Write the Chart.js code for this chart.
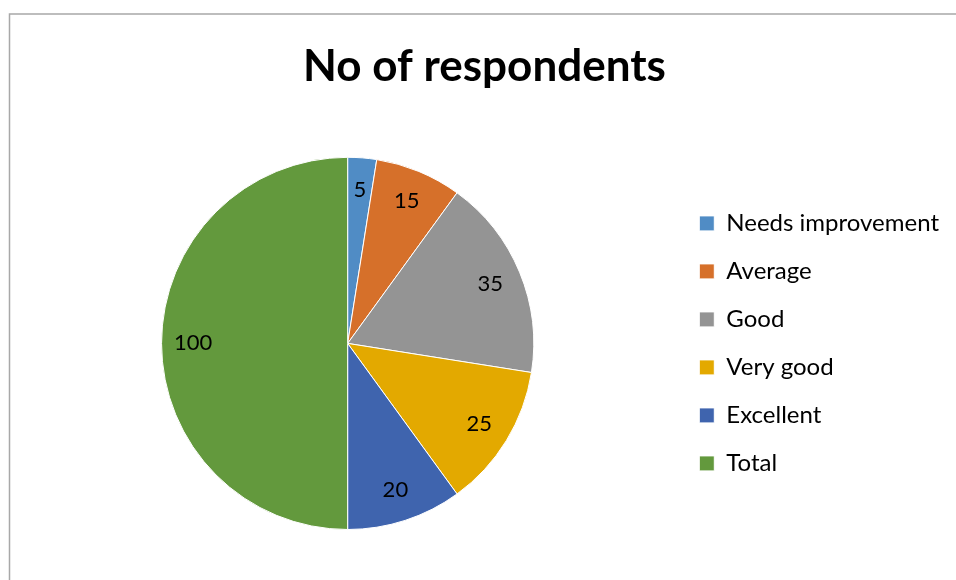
<!DOCTYPE html>
<html lang="en">
<head>
  <meta charset="UTF-8" />
  <title>No of respondents</title>
  <script src="https://cdn.jsdelivr.net/npm/chart.js@4/dist/chart.umd.min.js"></script>
  <style>
    html, body { margin: 0; padding: 0; background: #fff; }
    #wrap { width: 956px; height: 580px; position: relative; }
  </style>
</head>
<body>
  <div id="wrap">
    <canvas id="grafico" width="956" height="580"></canvas>
  </div>
  <script>
    const categories = ["Needs improvement", "Average", "Good", "Very good", "Excellent", "Total"];
    const respondents = [5, 15, 35, 25, 20, 100];
    const sliceColors = ["#508CC5", "#D6702A", "#949494", "#E3A900", "#3F64AE", "#63993D"];

    // frame lines along the top and left edge
    const frame = {
      id: "frame",
      beforeDraw(chart) {
        const ctx = chart.ctx;
        ctx.save();
        ctx.strokeStyle = "#a8a8a8";
        ctx.lineWidth = 1.5;
        ctx.beginPath();
        ctx.moveTo(9.5, 580);
        ctx.lineTo(9.5, 14);
        ctx.lineTo(956, 14);
        ctx.stroke();
        ctx.restore();
      }
    };

    // value labels inside each slice
    const sliceLabels = {
      id: "sliceLabels",
      afterDatasetsDraw(chart) {
        const ctx = chart.ctx;
        const meta = chart.getDatasetMeta(0);
        ctx.save();
        ctx.font = "22px Lato";
        ctx.fillStyle = "#000";
        ctx.textAlign = "center";
        ctx.textBaseline = "middle";
        meta.data.forEach((arc, i) => {
          const p = arc.getProps(["x", "y", "startAngle", "endAngle", "outerRadius"], true);
          const mid = (p.startAngle + p.endAngle) / 2;
          const r = p.outerRadius * 0.83;
          ctx.fillText(String(respondents[i]), p.x + Math.cos(mid) * r, p.y + Math.sin(mid) * r);
        });
        ctx.restore();
      }
    };

    const ctx = document.getElementById("grafico").getContext("2d");
    new Chart(ctx, {
      type: "pie",
      data: {
        labels: categories,
        datasets: [{
          label: "No of respondents",
          data: respondents,
          backgroundColor: sliceColors,
          borderColor: "#ffffff",
          borderWidth: 1
        }]
      },
      options: {
        responsive: false,
        animation: false,
        layout: { padding: { left: 20, right: 7, top: 0, bottom: 50 } },
        plugins: {
          tooltip: { enabled: false },
          title: {
            display: true,
            text: "No of respondents",
            color: "#000",
            font: { family: "Lato", size: 44, weight: "bold", lineHeight: 1.2 },
            padding: { top: 40, bottom: 64 }
          },
          legend: {
            position: "right",
            fullSize: false,
            labels: {
              color: "#000",
              font: { family: "Lato", size: 24 },
              boxWidth: 15,
              boxHeight: 15,
              padding: 24
            }
          }
        }
      },
      plugins: [frame, sliceLabels]
    });
  </script>
</body>
</html>
